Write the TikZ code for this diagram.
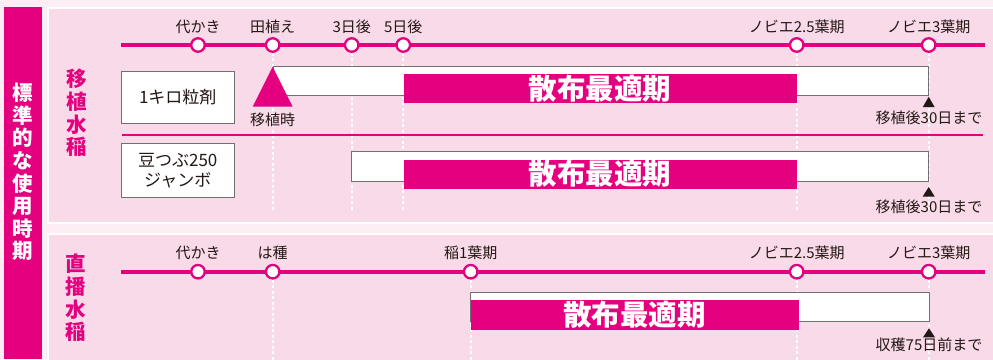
\documentclass[tikz,border=0pt]{standalone}
\usepackage{fontspec}
\usepackage{xcolor}
\usepackage{tikz}
\usetikzlibrary{positioning}
\setmainfont{Noto Sans CJK JP}
\definecolor{c1}{HTML}{E4007F}
\definecolor{c2}{HTML}{F9DAE8}
\definecolor{c3}{HTML}{FCEEF4}
\definecolor{c4}{HTML}{231815}
\definecolor{c5}{HTML}{707070}

\tikzset{
  stage/.style={circle, draw=c1, line width=2.3pt, fill=white, minimum size=13.5pt, inner sep=0pt},
  stagename/.style={inner sep=0pt, text=c4, font=\fontsize{15}{15}\selectfont},
  guide/.style={white, line width=2pt, dash pattern=on 3pt off 2.5pt},
  rail/.style={c1, line width=4pt},
  agent/.style={draw=c5, fill=white, line width=0.8pt, minimum width=113.3pt, inner sep=0pt, align=center, text=c4, font=\fontsize{17}{20}\selectfont},
  spanbar/.style={draw=c5, fill=white, line width=0.8pt},
  bestbar/.style={fill=c1, text=white, inner sep=0pt, font=\fontsize{28.5}{28.5}\selectfont\bfseries},
  vtitle/.style={inner sep=0pt, align=center, font=\fontsize{20.5}{22.6}\selectfont\bfseries},
  tip/.style={fill=c4}
}

\begin{document}
\begin{tikzpicture}[x=1pt, y=-1pt]
            \useasboundingbox (0,0) rectangle (993,359);
            \clip (0,0) rectangle (993,359);
            \fill[c3] (0,0) rectangle (993,359);
            \fill[c1] (4,7) rectangle (42,359);
            \draw[white, line width=2.5pt, fill=c2] (48,8) rectangle (1000,223);
            \draw[white, line width=2.5pt, fill=c2] (48,234) rectangle (1000,370);

            \node[vtitle, text=white] (std) at (23,172) {標\\準\\的\\な\\使\\用\\時\\期};
            \node[vtitle, text=c1] (tp) at (77,113) {移\\植\\水\\稲};
            \node[vtitle, text=c1] (ds) at (76,298) {直\\播\\水\\稲};

            % transplanted rice
            \coordinate (r1a) at (121,45);
            \coordinate (r1b) at (985,45);
            \coordinate (g1) at (0,210);
            \draw[rail] (r1a) -- (r1b);
            \node[stage] (a1) at (198,45) {};
            \node[stage] (a2) at (272.7,45) {};
            \node[stage] (a3) at (351.7,45) {};
            \node[stage] (a4) at (403.3,45) {};
            \node[stage] (a5) at (796.7,45) {};
            \node[stage] (a6) at (928.7,45) {};
            \node[stagename] (la1) at (198,27) {代かき};
            \node[stagename] (la2) at (272.7,27) {田植え};
            \node[stagename] (la3) at (351.7,27) {3日後};
            \node[stagename] (la4) at (403.3,27) {5日後};
            \node[stagename] (la5) at (796.7,27) {ノビエ2.5葉期};
            \node[stagename] (la6) at (928.7,27) {ノビエ3葉期};
            \draw[guide] (a2.south) -- (a2 |- g1);
            \draw[guide] (a3.south) -- (a3 |- g1);
            \draw[guide] (a4.south) -- (a4 |- g1);
            \draw[guide] (a5.south) -- (a5 |- g1);
            \draw[guide] (a6.south) -- (a6 |- g1);

            \node[agent, minimum height=52.6pt, anchor=north west] (k1) at (120.7,70.7) {1キロ粒剤};
            \draw[spanbar] (273.3,66.7) rectangle (928.7,95.7) coordinate (e1);
            \fill[c1] (272.7,66.7) coordinate (top1) -- (252.7,106.7) -- (292.7,106.7) -- cycle;
            \node[bestbar, minimum width=393.4pt, minimum height=29.4pt, anchor=north west] (o1) at (403.3,73.3) {散布最適期};
            \node[stagename] (m1) at (272.5,119.5) {移植時};
            \fill[tip] ([yshift=-1pt]e1) -- ++(-6,10.5) -- ++(12,0) -- cycle;
            \node[stagename] (n1) at (929,118) {移植後30日まで};

            \coordinate (s1) at (121.7,135);
            \coordinate (s2) at (983,135);
            \draw[c1, line width=2pt] (s1) -- (s2);

            \node[agent, minimum height=54pt, anchor=north west] (k2) at (120.7,143.3) {豆つぶ250\\ジャンボ};
            \draw[spanbar] (351.7,151.7) rectangle (928.7,181) coordinate (e2);
            \node[bestbar, minimum width=393.4pt, minimum height=29pt, anchor=north west] (o2) at (403.3,159.3) {散布最適期};
            \fill[tip] ([yshift=-6pt]e2) -- ++(-6,9.5) -- ++(12,0) -- cycle;
            \node[stagename] (n2) at (929,206.7) {移植後30日まで};

            % direct-seeded rice
            \coordinate (r2a) at (121,271.7);
            \coordinate (r2b) at (985,271.7);
            \coordinate (g2) at (0,360);
            \draw[rail] (r2a) -- (r2b);
            \node[stage] (b1) at (198,271.7) {};
            \node[stage] (b2) at (272.7,271.7) {};
            \node[stage] (b3) at (470.7,271.7) {};
            \node[stage] (b4) at (796.7,271.7) {};
            \node[stage] (b5) at (928.7,271.7) {};
            \node[stagename] (lb1) at (198,252.7) {代かき};
            \node[stagename] (lb2) at (272.7,252.7) {は種};
            \node[stagename] (lb3) at (470.7,252.7) {稲1葉期};
            \node[stagename] (lb4) at (796.7,252.7) {ノビエ2.5葉期};
            \node[stagename] (lb5) at (928.7,252.7) {ノビエ3葉期};
            \draw[guide] (b2.south) -- (b2 |- g2);
            \draw[guide] (b3.south) -- (b3 |- g2);
            \draw[guide] (b4.south) -- (b4 |- g2);
            \draw[guide] (b5.south) -- (b5 |- g2);

            \draw[spanbar] (470.7,292.3) rectangle (929.7,321.7) coordinate (e3);
            \node[bestbar, minimum width=327.6pt, minimum height=30pt, anchor=north west] (o3) at (470.7,299.3) {散布最適期};
            \fill[tip] ([xshift=-0.7pt, yshift=-6.6pt]e3) -- ++(-6,9) -- ++(12,0) -- cycle;
            \node[stagename] (n3) at (929,345) {収穫75日前まで};
        \end{tikzpicture}
\end{document}
